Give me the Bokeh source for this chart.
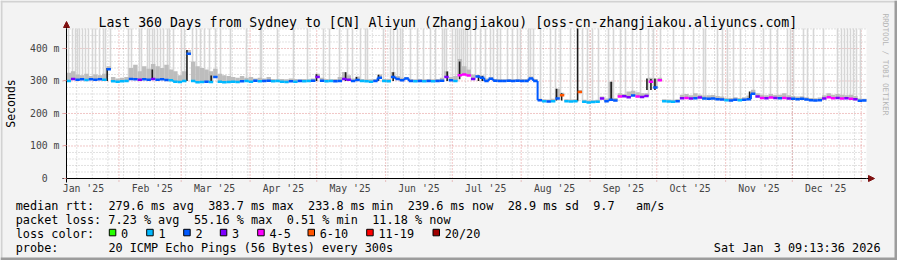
import re
from math import pi
import pandas as pd
from bokeh.plotting import figure
from bokeh.models import Range1d, FixedTicker, Label, Arrow, NormalHead, LinearAxis
from bokeh.embed import file_html
from bokeh.resources import INLINE

# ---------------- data ----------------
TITLE = "Last 360 Days from Sydney to [CN] Aliyun (Zhangjiakou) [oss-cn-zhangjiakou.aliyuncs.com]"
END_TIME = "2026-01-03 09:13:36"
SPAN_DAYS = 360
STEP_DAYS = 2          # one value per 2 days
Y_MAX = 461.5          # top of the value axis (ms)

# median RTT (ms), one value per 2-day step
median_ms = [
    300, 306, 304, 305, 303, 305, 304, 305, 304, 336,
    299, 298, 299, 300, 306, 305, 304, 305, 304, 306,
    304, 305, 303, 302, 298, 297, 300, 383.7, 300, 296,
    297, 298, 297, 312, 298, 296, 297, 298, 297, 299,
    300, 298, 301, 299, 300, 301, 299, 300, 298, 297,
    299, 298, 300, 299, 300, 301, 312, 301, 299, 300,
    299, 300, 306, 304, 300, 303, 300, 299, 298, 300,
    310, 300, 299, 312, 306, 302, 308, 300, 299, 300,
    299, 300, 299, 300, 301, 312, 302, 300, 318, 320,
    317, 306, 314, 310, 300, 307, 301, 300, 300, 301,
    300, 301, 300, 300, 308, 300, 241, 238, 237, 238,
    246, 256, 238, 237, 238, 266, 236, 233.8, 235, 236,
    246, 238, 242, 240, 252, 253, 250, 255, 252, 251,
    254, 298, 280, 302, 238, 237, 236, 238, 247, 248,
    246, 247, 249, 246, 245, 246, 244, 243, 241, 240,
    242, 241, 242, 244, 261, 252, 248, 247, 249, 248,
    247, 248, 246, 245, 244, 245, 243, 241, 240, 241,
    246, 250, 247, 248, 246, 247, 245, 244, 239, 239.6,
]
# loss bucket per step (index into loss_labels)
loss_bucket = [
    1, 3, 2, 2, 1, 2, 2, 2, 1, 2,
    1, 1, 1, 1, 2, 2, 3, 2, 2, 3,
    2, 2, 2, 1, 1, 1, 1, 2, 1, 1,
    1, 2, 1, 2, 1, 1, 1, 1, 1, 2,
    1, 1, 2, 1, 2, 2, 1, 1, 1, 1,
    2, 1, 2, 1, 1, 2, 3, 2, 1, 1,
    2, 2, 3, 3, 2, 2, 1, 1, 1, 2,
    2, 1, 1, 2, 2, 2, 2, 2, 1, 2,
    1, 2, 1, 2, 2, 3, 2, 1, 4, 4,
    4, 3, 2, 2, 2, 2, 2, 2, 2, 2,
    2, 2, 2, 2, 2, 2, 2, 1, 2, 1,
    2, 5, 1, 1, 1, 5, 1, 1, 1, 1,
    3, 2, 2, 2, 4, 3, 3, 2, 4, 3,
    3, 4, 2, 4, 1, 1, 1, 2, 3, 4,
    3, 2, 3, 2, 2, 2, 2, 2, 1, 2,
    2, 1, 2, 2, 2, 3, 4, 3, 4, 3,
    2, 4, 3, 2, 2, 2, 2, 2, 2, 2,
    3, 4, 4, 3, 4, 3, 4, 3, 2, 2,
]
# top of the grey smoke per step (ms)
smoke_top_ms = [
    325, 330, 320, 318, 322, 315, 320, 318, 322, 345,
    312, 308, 310, 312, 340, 350, 330, 345, 338, 352,
    345, 340, 350, 335, 330, 318, 330, 395, 360, 345,
    340, 335, 330, 338, 322, 318, 315, 312, 310, 315,
    310, 312, 308, 310, 308, 312, 306, 305, 306, 305,
    308, 306, 305, 306, 305, 308, 322, 310, 306, 305,
    306, 312, 328, 318, 308, 314, 306, 305, 305, 306,
    320, 306, 306, 328, 315, 310, 312, 306, 305, 306,
    305, 306, 305, 306, 310, 330, 312, 315, 368, 345,
    335, 320, 318, 318, 308, 312, 306, 306, 305, 306,
    305, 306, 306, 306, 314, 306, 245, 244, 243, 245,
    276, 264, 244, 243, 244, 272, 242, 240, 241, 242,
    252, 246, 298, 248, 262, 260, 268, 270, 265, 262,
    262, 310, 305, 310, 244, 243, 242, 244, 258, 260,
    256, 262, 258, 255, 256, 257, 254, 252, 248, 248,
    250, 248, 250, 255, 273, 262, 258, 256, 260, 257,
    258, 262, 256, 254, 252, 253, 250, 248, 247, 249,
    256, 262, 258, 260, 258, 256, 258, 254, 246, 245,
]
# days (from graph start) where slow pings went off the top of the graph
tall_days = [
    0.9, 2.7, 4.05, 4.95, 5.85, 7.2, 8.55, 9.9, 11.7, 13.05, 14.85, 16.65, 17.55, 19.8,
    27.9, 29.25, 32.85, 33.75, 36.45, 37.35, 38.7, 39.6, 40.95, 42.3, 43.65, 45.45, 46.35, 48.15,
    51.75, 53.1, 56.7, 58.5, 60.3, 62.1, 64.35, 67.05, 69.3, 73.8,
    81.0, 87.3, 87.75, 94.95, 102.15,
    108.45, 115.65, 118.35, 122.85, 126.45, 128.7, 132.3, 134.55, 135.45,
    142.65, 145.8, 147.15, 148.95, 150.3, 151.2, 154.8, 157.95, 160.65, 163.8, 166.05,
    169.2, 170.1, 171.0, 173.7,
    175.05, 175.95, 176.85, 177.75, 178.65, 179.55, 180.45, 181.8, 184.05, 186.3, 188.55,
    190.8, 192.15, 193.95, 195.3, 198.45, 200.7, 202.95, 204.3, 207.9, 208.8, 210.15,
    213.3, 217.8, 220.05, 222.3, 226.8, 232.2, 234.45,
    236.7, 239.4, 243.9, 246.15, 249.3, 251.55, 254.7, 258.3, 261.9, 264.15,
    267.3, 273.15, 277.65, 282.15, 286.65, 287.55, 292.95, 295.2,
    297.45, 300.15, 303.3, 309.15, 313.65, 316.8, 319.95, 324.45,
    325.8, 327.15, 331.65, 333.45, 336.15, 340.65, 346.95, 348.75, 350.1, 351.45,
    352.8, 354.15, 355.5, 357.3,
]
# dense (dark) smoke spikes: day, bottom and top (ms)
dark_days = [18.3, 38.6, 54.2, 65.1, 112.5, 125.6, 130.5, 140.4, 147.0, 171.3, 176.9,
             185.4, 187.1, 220.5, 222.8, 230.0, 245.1, 261.2, 263.0, 264.8, 307.4]
dark_bottom_ms = [300, 304, 300, 298, 300, 300, 300, 300, 300, 300, 305,
                  300, 300, 240, 240, 238, 240, 272, 272, 272, 244]
dark_top_ms = [340, 335, 395, 317, 321, 327, 312, 319, 327, 329, 360,
               317, 315, 276, 262, 461.5, 298, 308, 306, 308, 268]

loss_labels = ["0", "1", "2", "3", "4-5", "6-10", "11-19", "20/20"]
loss_colors = ["#26ff00", "#00b8ff", "#0059ff", "#7e00ff", "#ff00ff", "#ff5500", "#ff0000", "#a00000"]

y_ticks = [0, 100, 200, 300, 400]
y_tick_labels = ["0\u00a0\u00a0", "100 m", "200 m", "300 m", "400 m"]
month_labels = ["Jan '25", "Feb '25", "Mar '25", "Apr '25", "May '25", "Jun '25",
                "Jul '25", "Aug '25", "Sep '25", "Oct '25", "Nov '25", "Dec '25"]

legend_rows = [
    "median rtt:  279.6 ms avg  383.7 ms max  233.8 ms min  239.6 ms now  28.9 ms sd  9.7   am/s",
    "packet loss: 7.23 % avg  55.16 % max  0.51 % min  11.18 % now",
    "loss color:",
    "probe:       20 ICMP Echo Pings (56 Bytes) every 300s",
]
stamp_parts = ["Sat Jan", "3 09:13:36 2026"]

# ---------------- layout constants (pixels) ----------------
W, H = 897, 260
FX0, FW, FY0, FH = 66, 800, 178, 150   # plot-area left, width, bottom (y px), height
MONO = "DejaVu Sans Mono"
CW = 7.13            # legend character width
TX0 = 15.2           # legend text left
ROW_BASE = [205, 219, 233, 247]

end_ts = pd.Timestamp(END_TIME)
start_ts = end_ts - pd.Timedelta(days=SPAN_DAYS)


def ms(ts):
    return int((pd.Timestamp(ts) - pd.Timestamp("1970-01-01")) / pd.Timedelta(milliseconds=1))


start_ms, end_ms = ms(start_ts), ms(end_ts)
DAY = 86400000


def xpx(px):
    return start_ms + (px - FX0) / FW * (end_ms - start_ms)


def ypx(py):
    return (FY0 - py) / FH * Y_MAX


# the frame covers the whole canvas; the plot area is a region of it
p = figure(width=W, height=H, output_backend="svg", toolbar_location=None,
           x_range=Range1d(xpx(0), xpx(W)), y_range=Range1d(ypx(H), ypx(0)),
           x_axis_location=None, y_axis_location=None, min_border=0,
           background_fill_color="#f3f3f3", border_fill_color="#f3f3f3",
           outline_line_color=None)
p.grid.visible = False

# canvas 3-D frame and white plot area
p.quad(left=[xpx(0), xpx(0), xpx(0), xpx(W - 3)], right=[xpx(W), xpx(2), xpx(W), xpx(W)],
       top=[ypx(0), ypx(0), ypx(H - 3), ypx(0)], bottom=[ypx(2), ypx(H), ypx(H), ypx(H)],
       fill_color=["#d2d2d2", "#d2d2d2", "#9c9c9c", "#9c9c9c"], line_color=None)
p.quad(left=start_ms, right=end_ms, bottom=0, top=Y_MAX, fill_color="white", line_color=None)

# ---- grid
month_starts = [ms(t) for t in pd.date_range("2025-02-01", "2026-01-01", freq="MS")]
mondays = [ms(t) for t in pd.date_range("2025-01-13", end_ts, freq="7D")]
mid_months = [ms(t) for t in pd.date_range("2025-01-01", "2025-12-01", freq="MS") + pd.Timedelta(days=15)]
minor_y = [v for v in range(20, 461, 20) if v % 100]
major_y = [100, 200, 300, 400]

p.segment(x0=mondays, x1=mondays, y0=0, y1=Y_MAX, line_color="#8c8c8c", line_alpha=0.5,
          line_dash="1 2", line_width=1)
p.segment(x0=start_ms, x1=end_ms, y0=minor_y, y1=minor_y, line_color="#8c8c8c", line_alpha=0.5,
          line_dash="1 2", line_width=1)
p.segment(x0=month_starts, x1=month_starts, y0=ypx(181), y1=Y_MAX, line_color="#c82121",
          line_alpha=0.5, line_dash="1 2", line_width=1)
p.segment(x0=xpx(62), x1=end_ms, y0=major_y, y1=major_y, line_color="#c82121",
          line_alpha=0.5, line_dash="1 2", line_width=1)

# ---- smoke off the top
tall_x = [start_ms + d * DAY for d in tall_days]
tall_base = [median_ms[int(d // STEP_DAYS)] for d in tall_days]
p.segment(x0=tall_x, x1=tall_x, y0=tall_base, y1=Y_MAX, line_color="#d6d6d6", line_width=1.6)

# ---- grey smoke around the median
n = len(median_ms)
left = [start_ms + i * STEP_DAYS * DAY for i in range(n)]
right = [start_ms + (i + 1) * STEP_DAYS * DAY for i in range(n)]
p.quad(left=left, right=right, bottom=median_ms, top=smoke_top_ms,
       fill_color="#bdbdbd", line_color=None)

# ---- dense smoke spikes
dark_x = [start_ms + d * DAY for d in dark_days]
p.segment(x0=dark_x, x1=dark_x, y0=dark_bottom_ms, y1=dark_top_ms,
          line_color="#1c1c1c", line_width=1.6)

# ---- median line coloured by loss
colors = [loss_colors[b] for b in loss_bucket]
p.segment(x0=left, x1=right, y0=median_ms, y1=median_ms, line_color=colors, line_width=2.5)
vx, vy0, vy1, vc = [], [], [], []
for i in range(1, n):
    if loss_bucket[i] == loss_bucket[i - 1] and median_ms[i] != median_ms[i - 1]:
        vx.append(left[i]); vy0.append(median_ms[i - 1]); vy1.append(median_ms[i]); vc.append(colors[i])
p.segment(x0=vx, x1=vx, y0=vy0, y1=vy1, line_color=vc, line_width=2)

# ---- axes (drawn at the plot-area edges)
xa = LinearAxis(fixed_location=0, ticker=FixedTicker(ticks=mid_months), bounds=(xpx(62), end_ms))
xa.major_label_overrides = {t: lab for t, lab in zip(mid_months, month_labels)}
xa.major_tick_line_color = None
xa.major_tick_out = 0
xa.major_tick_in = 0
xa.minor_tick_line_color = None
xa.axis_line_color = "black"
xa.major_label_text_font = MONO
xa.major_label_text_font_size = "9.8px"
xa.major_label_standoff = 4
p.add_layout(xa, "below")

ya = LinearAxis(fixed_location=start_ms, ticker=FixedTicker(ticks=y_ticks), bounds=(ypx(182), Y_MAX))
ya.major_label_overrides = {t: lab for t, lab in zip(y_ticks, y_tick_labels)}
ya.major_tick_out = 3
ya.major_tick_in = 0
ya.major_tick_line_color = "#e09a9a"
ya.minor_tick_line_color = None
ya.axis_line_color = "black"
ya.major_label_text_font = MONO
ya.major_label_text_font_size = "9.8px"
ya.major_label_standoff = 4
p.add_layout(ya, "left")

p.add_layout(Arrow(x_start=end_ms, y_start=0, x_end=xpx(874), y_end=0, line_color="black",
                   end=NormalHead(size=6, fill_color="#7f1010", line_color="#7f1010", line_width=1)))
p.add_layout(Arrow(x_start=start_ms, y_start=Y_MAX, x_end=start_ms, y_end=ypx(21), line_color="black",
                   end=NormalHead(size=6, fill_color="#7f1010", line_color="#7f1010", line_width=1)))


# ---- texts
def txt(px, py, s, size="11.84px", align="left", baseline="alphabetic", color="black", angle=0.0):
    p.add_layout(Label(x=xpx(px), y=ypx(py), text=s, text_font=MONO, text_font_size=size,
                       text_align=align, text_baseline=baseline, text_color=color, angle=angle))


txt(447.3, 21.5, TITLE, size="13.2px", align="center")
txt(10, 103, "Seconds", size="11.5px", align="center", baseline="middle", angle=pi / 2)
txt(885, 13, "RRDTOOL / TOBI OETIKER", size="7.7px", align="left", baseline="middle",
    color="#b4b4b4", angle=-pi / 2)

# monospace legend rows: every run of text is placed at its character column
for row, base in zip(legend_rows, ROW_BASE):
    for m in re.finditer(r"\S+(?: \S+)*", row):
        txt(TX0 + m.start() * CW, base, m.group())

sq_x = [108.3, 145.7, 182.7, 219.3, 256.7, 307, 365.7, 432]
p.quad(left=[xpx(v + 0.5) for v in sq_x], right=[xpx(v + 7.0) for v in sq_x],
       top=ypx(228.8), bottom=ypx(235.3), fill_color=loss_colors, line_color="black", line_width=1)
for xp, s in zip(sq_x, loss_labels):
    txt(xp + 12.2, ROW_BASE[2], s)
txt(713.3, ROW_BASE[3], stamp_parts[0])
txt(880, ROW_BASE[3], stamp_parts[1], align="right")

open("out.html", "w").write(file_html(p, INLINE))
